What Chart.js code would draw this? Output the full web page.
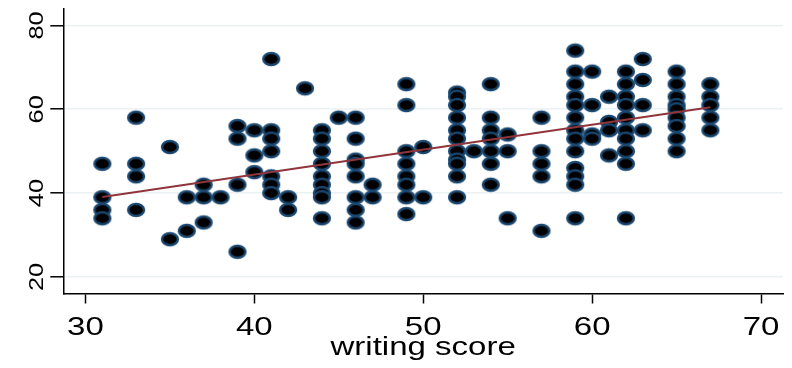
<!DOCTYPE html>
<html lang="en">
<head>
    <meta charset="UTF-8">
    <title>Writing score scatter</title>
    <script src="https://cdn.jsdelivr.net/npm/chart.js"></script>
    <style>
        html, body {
            margin: 0;
            padding: 0;
            background-color: #fff;
        }
        canvas {
            display: block;
        }
    </style>
</head>
<body>
    <canvas id="scatterChart" width="792" height="368"></canvas>

    <script>
        // writing score columns and the scores observed at each one
        const writingScores = [31, 33, 35, 36, 37, 38, 39, 40, 41, 42, 43, 44, 45, 46, 47, 49, 50,
                               52, 53, 54, 55, 57, 59, 60, 61, 62, 63, 65, 67];
        const scoresAtWriting = [
            [47, 39, 36, 34],
            [58, 47, 44, 36],
            [51, 29],
            [39, 31],
            [42, 39, 33],
            [39],
            [56, 53, 42, 26],
            [55, 49, 45],
            [72, 55, 53, 50, 44, 42, 40],
            [39, 36],
            [65],
            [55, 53, 50, 47, 44, 42, 40, 39, 34],
            [58],
            [58, 53, 48, 47, 44, 39, 36, 33],
            [42, 39],
            [66, 61, 50, 47, 44, 42, 39, 35],
            [51, 39],
            [64, 63, 61, 58, 55, 53, 50, 48, 47, 44, 39],
            [50],
            [66, 58, 55, 53, 50, 47, 42],
            [54, 50, 34],
            [58, 50, 47, 44, 31],
            [74, 69, 66, 63, 61, 58, 55, 53, 50, 46, 44, 42, 34],
            [69, 61, 54, 53],
            [63, 57, 55, 49],
            [69, 66, 63, 61, 58, 55, 53, 50, 47, 34],
            [72, 67, 61, 55],
            [69, 66, 63, 61, 60, 58, 56, 53, 50],
            [66, 63, 61, 58, 55]
        ];
        const fitX = [31, 67];
        const fitY = [39.1, 60.5];

        const xTicks = [30, 40, 50, 60, 70];
        const yTicks = [20, 40, 60, 80];
        const xTitle = 'writing score';

        const points = [];
        writingScores.forEach((w, i) => {
            scoresAtWriting[i].forEach(s => points.push({ x: w, y: s }));
        });
        const fitPoints = fitX.map((x, i) => ({ x: x, y: fitY[i] }));

        // wide oval marker, black with navy rim
        const marker = document.createElement('canvas');
        marker.width = 22;
        marker.height = 18;
        const mctx = marker.getContext('2d');
        mctx.beginPath();
        mctx.ellipse(11, 9, 7.9, 5.9, 0, 0, Math.PI * 2);
        mctx.fillStyle = '#000';
        mctx.fill();
        mctx.lineWidth = 2.5;
        mctx.strokeStyle = '#1a476f';
        mctx.stroke();

        const fontFamily = '"Liberation Sans", Arial, sans-serif';

        // axis labels drawn by hand so they can be stretched like the original
        const axisText = {
            id: 'axisText',
            afterDraw(chart) {
                const ctx = chart.ctx;
                const area = chart.chartArea;
                const xs = chart.scales.x;
                const ys = chart.scales.y;
                ctx.save();
                ctx.fillStyle = '#000';
                ctx.textAlign = 'center';
                ctx.textBaseline = 'alphabetic';

                ctx.font = '25.6px ' + fontFamily;
                xTicks.forEach(v => {
                    ctx.save();
                    ctx.translate(xs.getPixelForValue(v), area.bottom + 41);
                    ctx.scale(1.29, 1);
                    ctx.fillText(String(v), 0, 0);
                    ctx.restore();
                });

                ctx.save();
                ctx.translate((area.left + area.right) / 2, area.bottom + 61);
                ctx.scale(1.29, 1);
                ctx.fillText(xTitle, 0, 0);
                ctx.restore();

                ctx.font = '21px ' + fontFamily;
                yTicks.forEach(v => {
                    ctx.save();
                    ctx.translate(area.left - 20, ys.getPixelForValue(v));
                    ctx.rotate(-Math.PI / 2);
                    ctx.scale(1.21, 1);
                    ctx.fillText(String(v), 0, 0);
                    ctx.restore();
                });
                ctx.restore();
            }
        };

        new Chart(document.getElementById('scatterChart').getContext('2d'), {
            type: 'scatter',
            data: {
                datasets: [
                    {
                        type: 'line',
                        label: 'Fitted values',
                        data: fitPoints,
                        borderColor: '#90353b',
                        borderWidth: 2,
                        pointRadius: 0,
                        fill: false,
                        order: 0
                    },
                    {
                        label: 'score',
                        data: points,
                        pointStyle: marker,
                        pointRadius: 8,
                        order: 1
                    }
                ]
            },
            options: {
                responsive: false,
                animation: false,
                events: [],
                layout: {
                    padding: { top: 5, right: 0, bottom: 0, left: 0 }
                },
                plugins: {
                    legend: { display: false },
                    tooltip: { enabled: false }
                },
                scales: {
                    x: {
                        type: 'linear',
                        min: 28.69,
                        max: 71.3,
                        afterBuildTicks: scale => {
                            scale.ticks = xTicks.map(v => ({ value: v }));
                        },
                        afterFit: scale => {
                            scale.height = 74.5;
                        },
                        ticks: { display: false },
                        grid: {
                            drawOnChartArea: false,
                            tickLength: 10,
                            tickColor: '#000',
                            tickWidth: 1.5
                        },
                        border: { color: '#000', width: 1.5 }
                    },
                    y: {
                        type: 'linear',
                        min: 16.05,
                        max: 83.93,
                        afterBuildTicks: scale => {
                            scale.ticks = yTicks.map(v => ({ value: v }));
                        },
                        afterFit: scale => {
                            scale.width = 63.3;
                        },
                        ticks: { display: false },
                        grid: {
                            color: '#eaf2f3',
                            lineWidth: 1.6,
                            tickLength: 13,
                            tickColor: '#000',
                            tickWidth: 1.5
                        },
                        border: { color: '#000', width: 1.5 }
                    }
                }
            },
            plugins: [axisText]
        });
    </script>
</body>
</html>
